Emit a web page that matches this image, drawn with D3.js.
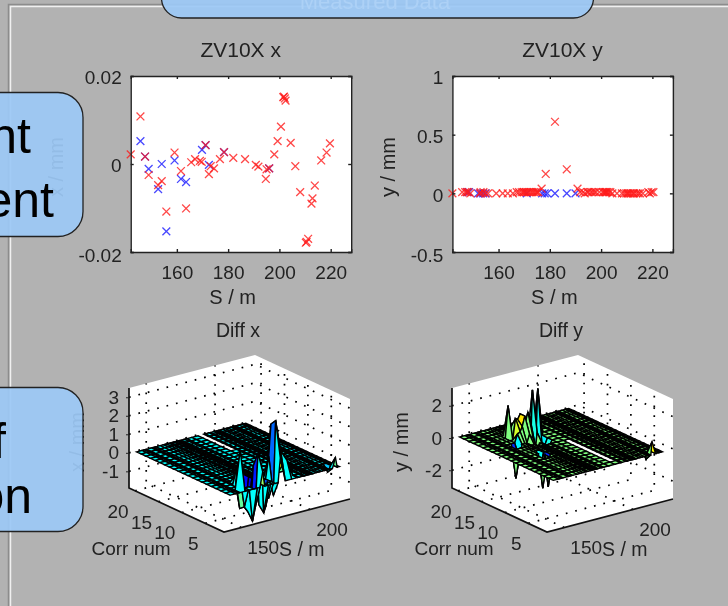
<!DOCTYPE html>
<html>
<head>
<meta charset="utf-8">
<script src="https://cdn.jsdelivr.net/npm/d3@7"></script>
<style>
  html, body { margin: 0; padding: 0; background: #b2b2b2; overflow: hidden; }
  svg { display: block; filter: blur(0.6px); }
  text { font-family: "Liberation Sans", sans-serif; fill: #222; }
</style>
</head>
<body>
<script>
// scatter data
const redS = [142,145.8,147.6,149,152.7,154.1,155.9,159.1,161.6,163.6,165.6,167.1,169,169.7,171.2,172.5,173.2,174.5,176.8,178.4,182,186.6,190.8,191.8,194.7,195,196,198,199.3,200.6,201.5,201.8,202.1,202.4,204.4,206.2,208.1,210.3,210.6,211.2,212.5,212.9,213.8,216.3,218.4,219.7];
const redX = [.0022,.0108,.0017,-.0025,-.0048,-.0039,-.0108,.0026,-.0016,-.0101,.0004,.0011,.0007,.0005,.0043,-.0023,-.0005,-.001,.0011,.0027,.0014,.0011,-.0002,-.0006,-.0034,-.0012,-.001,.0022,.0052,.0085,.0152,.0153,.0149,.0144,.0048,-.0005,-.0064,-.0179,-.0177,-.017,-.009,-.0078,-.0049,.0008,.0026,.0047];
const redY = [0,.01,.01,0,0,.01,0,0,0,0,0,.01,.01,.01,.01,.01,.01,.01,.04,.165,.61,.205,.04,.01,.01,.01,.01,.01,.01,.01,.01,.01,.01,.01,0,0,0,0,0,0,0,0,0,0,.01,.01];
// further red crosses packed along the zero line of the y plot
const extraYS = [147,148.2,153,154.8,168,170,170.6,171.8,173.8,175,175.5,193,193.6,196.6,197.4,201,203,203.6,209,209.8,211.8,214.6,215.2,219,220.4];
const extraY = [.01,.01,.01,0,.01,.01,.01,.01,.01,.01,.01,.01,0,.01,.01,.01,.01,.01,0,0,0,0,0,0,.01];
const blueXS = [145.8,147.6,149,152.7,154.1,155.9,159.1,161.6,163.6,169.8,171.2,172.5,178.4,196];
const blueX = [.0052,.0017,-.0011,-.0057,0,-.0153,.0008,-.0034,-.0041,.0032,.0043,-.0002,.0027,-.001];
const blueYS = [147.8,148.5,152,153,154,155,171,177,178,179,182,186.6,190];
const blueY = [.01,.01,0,0,0,0,0,0,0,0,0,0,0];

const sTicks = [160,180,200,220];
const xTicks = [-0.02,0,0.02];
const yTicks = [-0.5,0,0.5,1];

// surface data: grid positions and the non-flat cells as [S, corr, value]
const gridS = [142,145.8,147.6,149,152.7,154.1,155.9,159.1,161.6,163.6,165.6,167.1,169,169.7,171.2,172.5,173.2,174.5,176.8,178.4,182,186.6,190.8,191.8,194.7,195,196,198,199.3,200.6,201.5,202.1,204.4,206.2,208.1,210.3,211.2,212.5,212.9,213.8,216.3,218.4,219.7,221.3];
const gridCorr = [1,2,3,4,5,6,7,8,9,10,11,12,13,14,15,16,17,18,19,20,21];
const diffXCells = [
  [178.4,2,3.2],[178.4,3,2.9],[178.4,1,1.3],[176.8,2,-0.8],[176.8,3,1.2],[182,2,1.5],[182,3,1.3],
  [165.6,2,1.7],[165.6,1,0.8],[165.6,3,0.9],[167.1,3,0.8],
  [161.6,2,-1.9],[161.6,3,-1.5],[163.6,3,-1.4],[159.1,3,-1.2],[163.6,2,-1.2],[161.6,4,-1.3],[159.1,4,-1.4],[163.6,4,-1.0],
  [165.6,4,-1.4],[167.1,4,-1.4],[165.6,5,-1.2],[167.1,5,-1.3],
  [169.7,2,-1.6],[169.7,3,-1.3],[171.2,2,-1.3],[172.5,3,-1.2],[173.2,2,-0.9],[171.2,4,-0.9],
  [152.7,2,2.1],[154.1,3,1.2],[155.9,3,0.5],[155.9,4,0.4],
  [186.6,2,0.9],[186.6,3,0.5],[190.8,3,0.3],[218.4,1,0.55],[216.3,2,-0.3]
];
const diffXGap = [14,21];
const diffYCells = [
  [178.4,15,3.0],[178.4,14,-0.8],[176.8,13,-0.8],[176.8,14,-0.7],[178.4,13,-0.6],[176.8,15,-0.7],
  [174.5,15,3.0],[174.5,14,0.5],[173.2,14,-0.6],[172.5,13,-0.8],[172.5,15,1.4],[173.2,15,-0.5],
  [163.6,17,2.0],[165.6,16,1.3],[165.6,17,0.6],[167.1,15,0.9],[167.1,16,1.2],[169,15,1.5],[169,16,1.5],[169.7,15,1.2],[171.2,15,1.7],[165.6,15,0.6],
  [169,14,0.5],[171.2,14,0.4],[171.2,13,-0.7],
  [159.1,14,-2.0],[161.6,14,-0.8],[161.6,9,-2.0],[165.6,9,-2.0],[163.6,10,-0.7],[163.6,15,0.5],
  [214,1,0.8],[212.9,2,-0.4]
];
const diffYGap = [2,12];
const zTicksX = [-1,0,1,2,3];
const zTicksY = [-2,0,2];
const surfSTicks = [150,200];
const surfCorrTicks = [5,10,15,20];

const svg = d3.select("body").append("svg").attr("width", 728).attr("height", 606);

// window frame
svg.append("path").attr("d", "M8.5,606V4.5H728").attr("fill", "none").attr("stroke", "#8c8c8c").attr("stroke-width", 1.5);
svg.append("path").attr("d", "M10.5,606V6.5H728").attr("fill", "none").attr("stroke", "#f0f0f0").attr("stroke-width", 1.5);

function scatter(left, opts) {
  const x = d3.scaleLinear().domain([142, 228]).range([left, left + 220.5]);
  const y = d3.scaleLinear().domain(opts.yDomain).range([252, 76]);
  const g = svg.append("g");
  g.append("rect").attr("x", left).attr("y", 76).attr("width", 220.5).attr("height", 176).attr("fill", "#fff");

  function cross(S, v, color) {
    g.append("g").selectAll("path").data(S).enter().append("path")
      .attr("d", "M-3.9,-3.9L3.9,3.9M-3.9,3.9L3.9,-3.9")
      .attr("transform", function (d, i) { return "translate(" + x(d) + "," + y(v[i]) + ")"; })
      .attr("fill", "none").attr("stroke", color).attr("stroke-width", 1.3).attr("stroke-opacity", 0.8);
  }
  cross(opts.blueS, opts.blueV, "#1a1aff");
  cross(opts.redS, opts.redV, "#ff1a1a");

  const bottom = g.append("g").attr("transform", "translate(0,252)")
    .call(d3.axisBottom(x).tickValues(sTicks).tickSize(-3).tickPadding(14).tickFormat(d3.format("d")));
  const top = g.append("g").attr("transform", "translate(0,76)")
    .call(d3.axisTop(x).tickValues(sTicks).tickSize(-3).tickFormat(""));
  const leftAxis = g.append("g").attr("transform", "translate(" + left + ",0)")
    .call(d3.axisLeft(y).tickValues(opts.yTicks).tickSize(-3).tickPadding(9).tickFormat(function (d) { return String(d); }));
  const rightAxis = g.append("g").attr("transform", "translate(" + (left + 220.5) + ",0)")
    .call(d3.axisRight(y).tickValues(opts.yTicks).tickSize(-3).tickFormat(""));
  [bottom, top, leftAxis, rightAxis].forEach(function (a) {
    a.selectAll("path,line").attr("stroke", "#222").attr("stroke-width", 1.4);
    a.selectAll("text").attr("font-size", 19).attr("font-family", "Liberation Sans").attr("fill", "#222");
  });
  leftAxis.selectAll("text").attr("dy", function (d) { return d === opts.yDomain[0] ? "0.5em" : "0.42em"; });

  g.append("text").attr("x", left + 110).attr("y", 57).attr("text-anchor", "middle").attr("font-size", 21).text(opts.title);
  g.append("text").attr("x", left + 102).attr("y", 304).attr("text-anchor", "middle").attr("font-size", 20).text("S / m");
  g.append("text").attr("transform", "translate(" + opts.labelX + ",167) rotate(-90)").attr("text-anchor", "middle").attr("font-size", 20).text(opts.yLabel);
}

scatter(130.7, { title: "ZV10X x", yLabel: "x / mm", labelX: 63, yDomain: [-0.02, 0.02], yTicks: xTicks, redS: redS, redV: redX, blueS: blueXS, blueV: blueX });
scatter(452.4, { title: "ZV10X y", yLabel: "y / mm", labelX: 395, yDomain: [-0.5, 1], yTicks: yTicks, redS: redS.concat(extraYS), redV: redY.concat(extraY), blueS: blueYS, blueV: blueY });

const jet = d3.scaleLinear().domain([0, 0.125, 0.375, 0.625, 0.875, 1])
  .range(["#00008f", "#0000ff", "#00ffff", "#ffff00", "#ff0000", "#800000"]);

function surface(front, opts) {
  const su = d3.scaleLinear().domain([137.5, 229]).range([0, 1]);
  const cv = d3.scaleLinear().domain([1, 21.3]).range([0, 1]);
  const zh = d3.scaleLinear().domain(opts.zDomain).range([0, 100]);
  const colorAt = d3.scaleLinear().domain(opts.cDomain).range([0, 1]).clamp(true);
  function project(s, c, z) {
    const a = su(s), b = cv(c);
    return [front[0] + 126 * a - 95 * b, front[1] - 33 * a - 44 * b - zh(z)];
  }
  const line = d3.line();
  const g = svg.append("g");
  const sMin = su.domain()[0], sMax = su.domain()[1], cMin = cv.domain()[0], cMax = cv.domain()[1];
  const zMin = opts.zDomain[0], zMax = opts.zDomain[1];

  g.append("path").attr("fill", "#fff").attr("d", line([
    project(sMin, cMax, zMax), project(sMax, cMax, zMax), project(sMax, cMin, zMax),
    project(sMax, cMin, zMin), project(sMin, cMin, zMin), project(sMin, cMax, zMin)]) + "Z");

  // dotted grid on the two back walls and the floor
  const gridLines = [];
  opts.zTicks.forEach(function (z) {
    gridLines.push([project(sMin, cMax, z), project(sMax, cMax, z), project(sMax, cMin, z)]);
  });
  surfSTicks.forEach(function (s) {
    gridLines.push([project(s, cMin, zMin), project(s, cMax, zMin), project(s, cMax, zMax)]);
  });
  surfCorrTicks.forEach(function (c) {
    gridLines.push([project(sMin, c, zMin), project(sMax, c, zMin), project(sMax, c, zMax)]);
  });
  g.append("g").selectAll("path").data(gridLines).enter().append("path")
    .attr("d", function (d) { return line(d); })
    .attr("fill", "none").attr("stroke", "#000").attr("stroke-width", 1.7).attr("stroke-dasharray", "1.7 8");

  // value matrix: flat except for the listed cells
  const z = gridCorr.map(function () { return gridS.map(function () { return 0; }); });
  opts.cells.forEach(function (cell) {
    z[d3.bisectCenter(gridCorr, cell[1])][d3.bisectCenter(gridS, cell[0])] = cell[2];
  });

  const faces = [];
  for (let j = gridCorr.length - 2; j >= 0; j--) {
    for (let i = gridS.length - 2; i >= 0; i--) {
      if (gridS[i] === 186.6 && gridCorr[j] >= opts.gap[0] && gridCorr[j] < opts.gap[1]) continue;
      faces.push({
        pts: [project(gridS[i], gridCorr[j], z[j][i]), project(gridS[i + 1], gridCorr[j], z[j][i + 1]),
              project(gridS[i + 1], gridCorr[j + 1], z[j + 1][i + 1]), project(gridS[i], gridCorr[j + 1], z[j + 1][i])],
        v: z[j][i]
      });
    }
  }
  g.append("g").selectAll("path").data(faces).enter().append("path")
    .attr("d", function (d) { return line(d.pts) + "Z"; })
    .attr("fill", function (d) { return jet(colorAt(d.v)); })
    .attr("stroke", "#000").attr("stroke-width", 1.4);

  // axis edges
  g.append("path").attr("fill", "none").attr("stroke", "#111").attr("stroke-width", 1.7)
    .attr("d", line([project(sMin, cMax, zMax), project(sMin, cMax, zMin), project(sMin, cMin, zMin), project(sMax, cMin, zMin)]));

  const zAxisScale = d3.scaleLinear().domain(opts.zDomain).range([front[1] - 44, front[1] - 144]);
  const zAxis = g.append("g").attr("transform", "translate(" + project(sMin, cMax, zMin)[0] + ",0)")
    .call(d3.axisLeft(zAxisScale).tickValues(opts.zTicks).tickSize(3).tickPadding(7).tickFormat(function (d) { return String(d); }));
  zAxis.select(".domain").remove();
  zAxis.selectAll("line").attr("stroke", "#222");
  zAxis.selectAll("text").attr("font-size", 19).attr("font-family", "Liberation Sans").attr("fill", "#222");

  g.append("g").selectAll("text").data(surfSTicks).enter().append("text")
    .attr("x", function (d) { return project(d, cMin, zMin)[0] + 22; })
    .attr("y", function (d) { return project(d, cMin, zMin)[1] + 27; })
    .attr("text-anchor", "middle").attr("font-size", 19).text(function (d) { return d; });
  g.append("g").selectAll("text").data(surfCorrTicks).enter().append("text")
    .attr("x", function (d) { return project(sMin, d, zMin)[0] - (d === 5 ? 12 : 17); })
    .attr("y", function (d) { return project(sMin, d, zMin)[1] + 27; })
    .attr("text-anchor", "middle").attr("font-size", 19).text(function (d) { return d; });

  g.append("text").attr("x", front[0] + 55).attr("y", front[1] + 24).attr("font-size", 19.5).text("S / m");
  g.append("text").attr("x", front[0] - 93).attr("y", front[1] + 23).attr("text-anchor", "middle").attr("font-size", 19).text("Corr num");
  g.append("text").attr("x", front[0] + 14).attr("y", 336.5).attr("text-anchor", "middle").attr("font-size", 19.5).text(opts.title);
  g.append("text").attr("transform", "translate(" + opts.labelX + ",442) rotate(-90)").attr("text-anchor", "middle").attr("font-size", 20).text(opts.zLabel);
}

surface([224, 532], { title: "Diff x", zLabel: "x / mm", labelX: 84, zDomain: [-1.9, 3.5], cDomain: [-2, 3.3], zTicks: zTicksX, cells: diffXCells, gap: diffXGap });
surface([547, 532], { title: "Diff y", zLabel: "y / mm", labelX: 408, zDomain: [-3.1, 3.1], cDomain: [-3, 3], zTicks: zTicksY, cells: diffYCells, gap: diffYGap });

// callouts sit over the figure, slightly see-through
function callout(x, y, w, h, r) {
  svg.append("rect").attr("x", x).attr("y", y).attr("width", w).attr("height", h).attr("rx", r)
    .attr("fill", "#9cc8f5").attr("fill-opacity", 0.93).attr("stroke", "#222").attr("stroke-width", 1.3);
}
callout(-40, 92.5, 123, 144, 25);
callout(-40, 387.5, 123, 144, 25);
callout(161.5, -40, 432, 58, 20);

svg.append("text").attr("x", 375).attr("y", 9).attr("text-anchor", "middle").attr("font-size", 22).style("fill", "#add1f6").text("Measured Data");
const bigLabels = [["nt", 31, 153], ["ent", 54, 217], ["f", 6, 458], ["on", 32, 513]];
svg.append("g").selectAll("text").data(bigLabels).enter().append("text")
  .attr("x", function (d) { return d[1]; }).attr("y", function (d) { return d[2]; })
  .attr("text-anchor", "end").attr("font-size", 50).style("fill", "#000").text(function (d) { return d[0]; });
</script>
</body>
</html>
